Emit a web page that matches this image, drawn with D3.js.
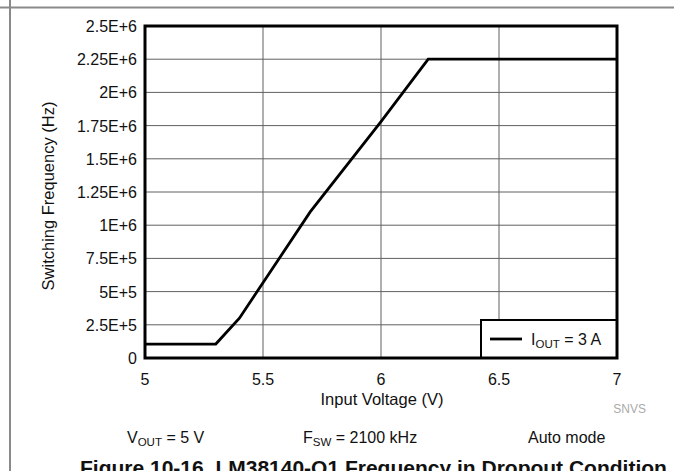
<!DOCTYPE html>
<html><head><meta charset="utf-8">
<script src="https://cdn.jsdelivr.net/npm/d3@7"></script>
<style>body{margin:0;background:#fff}svg{display:block;font-family:"Liberation Sans",Arial,sans-serif}</style>
</head><body>
<svg id="c" width="674" height="471"></svg>
<script>
const voltage = [5.0, 5.3, 5.4, 5.7, 6.0, 6.2, 7.0];
const frequency = [1.05e5, 1.05e5, 3.0e5, 1.1e6, 1.78e6, 2.25e6, 2.25e6];
const xTicks = [5, 5.5, 6, 6.5, 7];
const xTickLabels = ["5", "5.5", "6", "6.5", "7"];
const yTicks = [0, 2.5e5, 5e5, 7.5e5, 1e6, 1.25e6, 1.5e6, 1.75e6, 2e6, 2.25e6, 2.5e6];
const yTickLabels = ["0", "2.5E+5", "5E+5", "7.5E+5", "1E+6", "1.25E+6", "1.5E+6", "1.75E+6", "2E+6", "2.25E+6", "2.5E+6"];

const svg = d3.select("#c");
const L = 145, R = 617, T = 26, B = 358;
const x = d3.scaleLinear().domain([5, 7]).range([L, R]);
const y = d3.scaleLinear().domain([0, 2.5e6]).range([B, T]);
const FS = 16;

// page frame lines
svg.append("line").attr("x1", 0).attr("x2", 674).attr("y1", 7.5).attr("y2", 7.5).attr("stroke", "#8a8a8a").attr("stroke-width", 2);
svg.append("line").attr("x1", 10).attr("x2", 10).attr("y1", 0).attr("y2", 471).attr("stroke", "#8a8a8a").attr("stroke-width", 2);

// grid
const g = svg.append("g");
g.selectAll(".gx").data(xTicks.slice(1, -1)).enter().append("line")
  .attr("x1", d => x(d)).attr("x2", d => x(d)).attr("y1", T).attr("y2", B)
  .attr("stroke", "#606060").attr("stroke-width", 1);
g.selectAll(".gy").data(yTicks.slice(1, -1)).enter().append("line")
  .attr("x1", L).attr("x2", R).attr("y1", d => y(d)).attr("y2", d => y(d))
  .attr("stroke", "#606060").attr("stroke-width", 1);

// tick labels
svg.append("g").selectAll("text").data(yTicks).enter().append("text")
  .attr("x", L - 8).attr("y", d => y(d) + 6).attr("text-anchor", "end")
  .attr("font-size", FS).attr("fill", "#111").text((d, i) => yTickLabels[i]);
svg.append("g").selectAll("text").data(xTicks).enter().append("text")
  .attr("x", d => x(d)).attr("y", B + 27).attr("text-anchor", "middle")
  .attr("font-size", FS).attr("fill", "#111").text((d, i) => xTickLabels[i]);

// data line
const line = d3.line().x((d, i) => x(voltage[i])).y((d, i) => y(frequency[i]));
svg.append("path").datum(frequency).attr("d", line).attr("fill", "none")
  .attr("stroke", "#000").attr("stroke-width", 2.8).attr("stroke-linejoin", "miter");

// legend
svg.append("rect").attr("x", 481).attr("y", 320).attr("width", R - 481).attr("height", B - 320)
  .attr("fill", "#fff").attr("stroke", "#000").attr("stroke-width", 2);
svg.append("line").attr("x1", 490).attr("x2", 522).attr("y1", 339).attr("y2", 339)
  .attr("stroke", "#000").attr("stroke-width", 2.8);
const lt = svg.append("text").attr("x", 531).attr("y", 345).attr("font-size", FS).attr("fill", "#111");
lt.append("tspan").text("I");
lt.append("tspan").attr("font-size", 11.5).attr("dy", 3).text("OUT");
lt.append("tspan").attr("dy", -3).text(" = 3 A");

// plot border
svg.append("rect").attr("x", L).attr("y", T).attr("width", R - L).attr("height", B - T)
  .attr("fill", "none").attr("stroke", "#000").attr("stroke-width", 3);

// axis titles
svg.append("text").attr("x", 382).attr("y", 405).attr("text-anchor", "middle")
  .attr("font-size", 16.5).attr("fill", "#111").text("Input Voltage (V)");
svg.append("text").attr("transform", `translate(54,${(T + B) / 2 + 4}) rotate(-90)`)
  .attr("text-anchor", "middle").attr("font-size", 16.5).attr("fill", "#111").text("Switching Frequency (Hz)");
svg.append("text").attr("x", 646).attr("y", 413).attr("text-anchor", "end")
  .attr("font-size", 12).attr("fill", "#aaa").text("SNVS");

// conditions
function cond(xp, main, sub, rest) {
  const t = svg.append("text").attr("x", xp).attr("y", 443).attr("font-size", FS).attr("fill", "#111");
  t.append("tspan").text(main);
  if (sub) { t.append("tspan").attr("font-size", 11.5).attr("dy", 3).text(sub); t.append("tspan").attr("dy", -3).text(rest); }
  return t;
}
cond(127, "V", "OUT", " = 5 V");
cond(303, "F", "SW", " = 2100 kHz");
cond(528, "Auto mode", null, null);

// caption (clipped at bottom, as in the reference)
svg.append("text").attr("x", 80).attr("y", 475).attr("font-size", 21).attr("font-weight", "bold")
  .attr("fill", "#111").text("Figure 10-16. LM38140-Q1 Frequency in Dropout Condition");
</script>
</body></html>
